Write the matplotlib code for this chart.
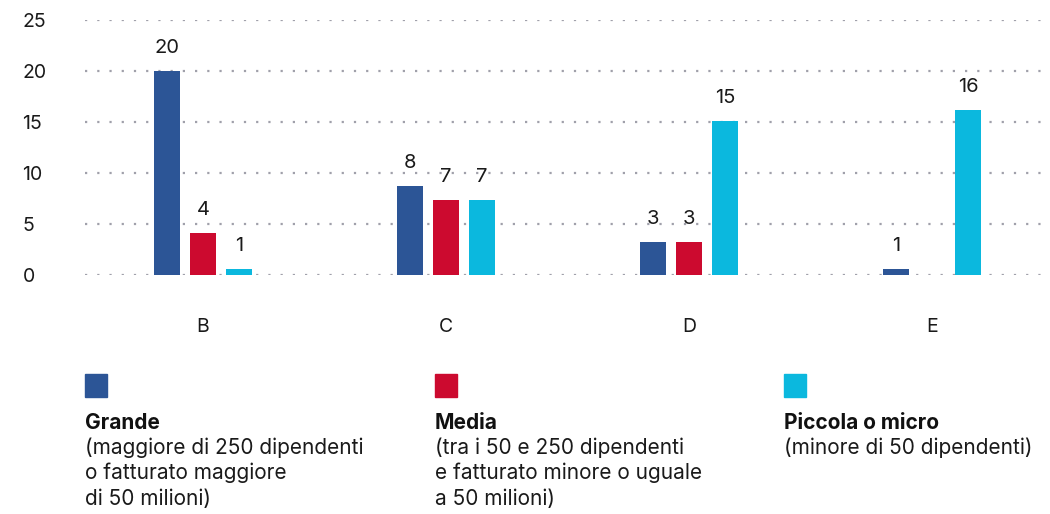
import matplotlib.pyplot as plt
from matplotlib.patches import Rectangle
import numpy as np

plt.rcParams['font.family'] = ['Inter', 'DejaVu Sans']

# data
categories = ['B', 'C', 'D', 'E']
grande = [20, 8.75, 3.2, 0.6]
media = [4.1, 7.4, 3.2, 0]
piccola = [0.6, 7.35, 15.1, 16.15]
grande_lbl = ['20', '8', '3', '1']
media_lbl = ['4', '7', '3', '']
piccola_lbl = ['1', '7', '15', '16']

series_names = ['Grande', 'Media', 'Piccola o micro']
series_notes = [
    '(maggiore di 250 dipendenti\no fatturato maggiore\ndi 50 milioni)',
    '(tra i 50 e 250 dipendenti\ne fatturato minore o uguale\na 50 milioni)',
    '(minore di 50 dipendenti)',
]
colors = ['#2c5596', '#cc0a2f', '#0bb8de']

fig = plt.figure(figsize=(10.5, 5.14), dpi=100)
ax = fig.add_axes([85 / 1050, 1 - 275 / 514, 1 - 85 / 1050, 255 / 514])

x = np.arange(len(categories))
offset = 0.148
width = 0.107
series = [(grande, grande_lbl), (media, media_lbl), (piccola, piccola_lbl)]
for i, (vals, lbls) in enumerate(series):
    pos = x + (i - 1) * offset
    bars = ax.bar(pos, vals, width, color=colors[i], zorder=3)
    for b, lab in zip(bars, lbls):
        if lab:
            ax.annotate(lab, (b.get_x() + b.get_width() / 2, b.get_height()),
                        xytext=(0, 10), textcoords='offset points',
                        ha='center', va='bottom', fontsize=14.5, color='#1a1a1a')

ax.set_xlim(-0.486, 3.486)
ax.set_ylim(0, 25)
ax.set_yticks([0, 5, 10, 15, 20, 25])
ax.set_xticks(x)
ax.set_xticklabels(categories)
ax.grid(axis='y', color='#a0a0aa', linestyle=(0, (1, 4.5)), linewidth=1.6, zorder=0)
for s in ax.spines.values():
    s.set_visible(False)
ax.tick_params(axis='both', length=0, labelsize=14, labelcolor='#1a1a1a')
ax.tick_params(axis='x', pad=31)
ax.tick_params(axis='y', pad=45)
for t in ax.get_yticklabels():
    t.set_horizontalalignment('left')

# legend below the chart
col_x = [85, 435, 784]
for i in range(3):
    fx = col_x[i] / 1050
    fig.add_artist(Rectangle((fx, 1 - 397 / 514), 22 / 1050, 23 / 514,
                             transform=fig.transFigure, color=colors[i]))
    fig.text(fx, 1 - 423 / 514, series_names[i], fontsize=15, fontweight='bold',
             va='center', ha='left', color='#111111')
    fig.text(fx, 1 - 437 / 514, series_notes[i], fontsize=15, va='top', ha='left',
             color='#1a1a1a', linespacing=1.33)

fig.savefig('out.png', dpi=100)
